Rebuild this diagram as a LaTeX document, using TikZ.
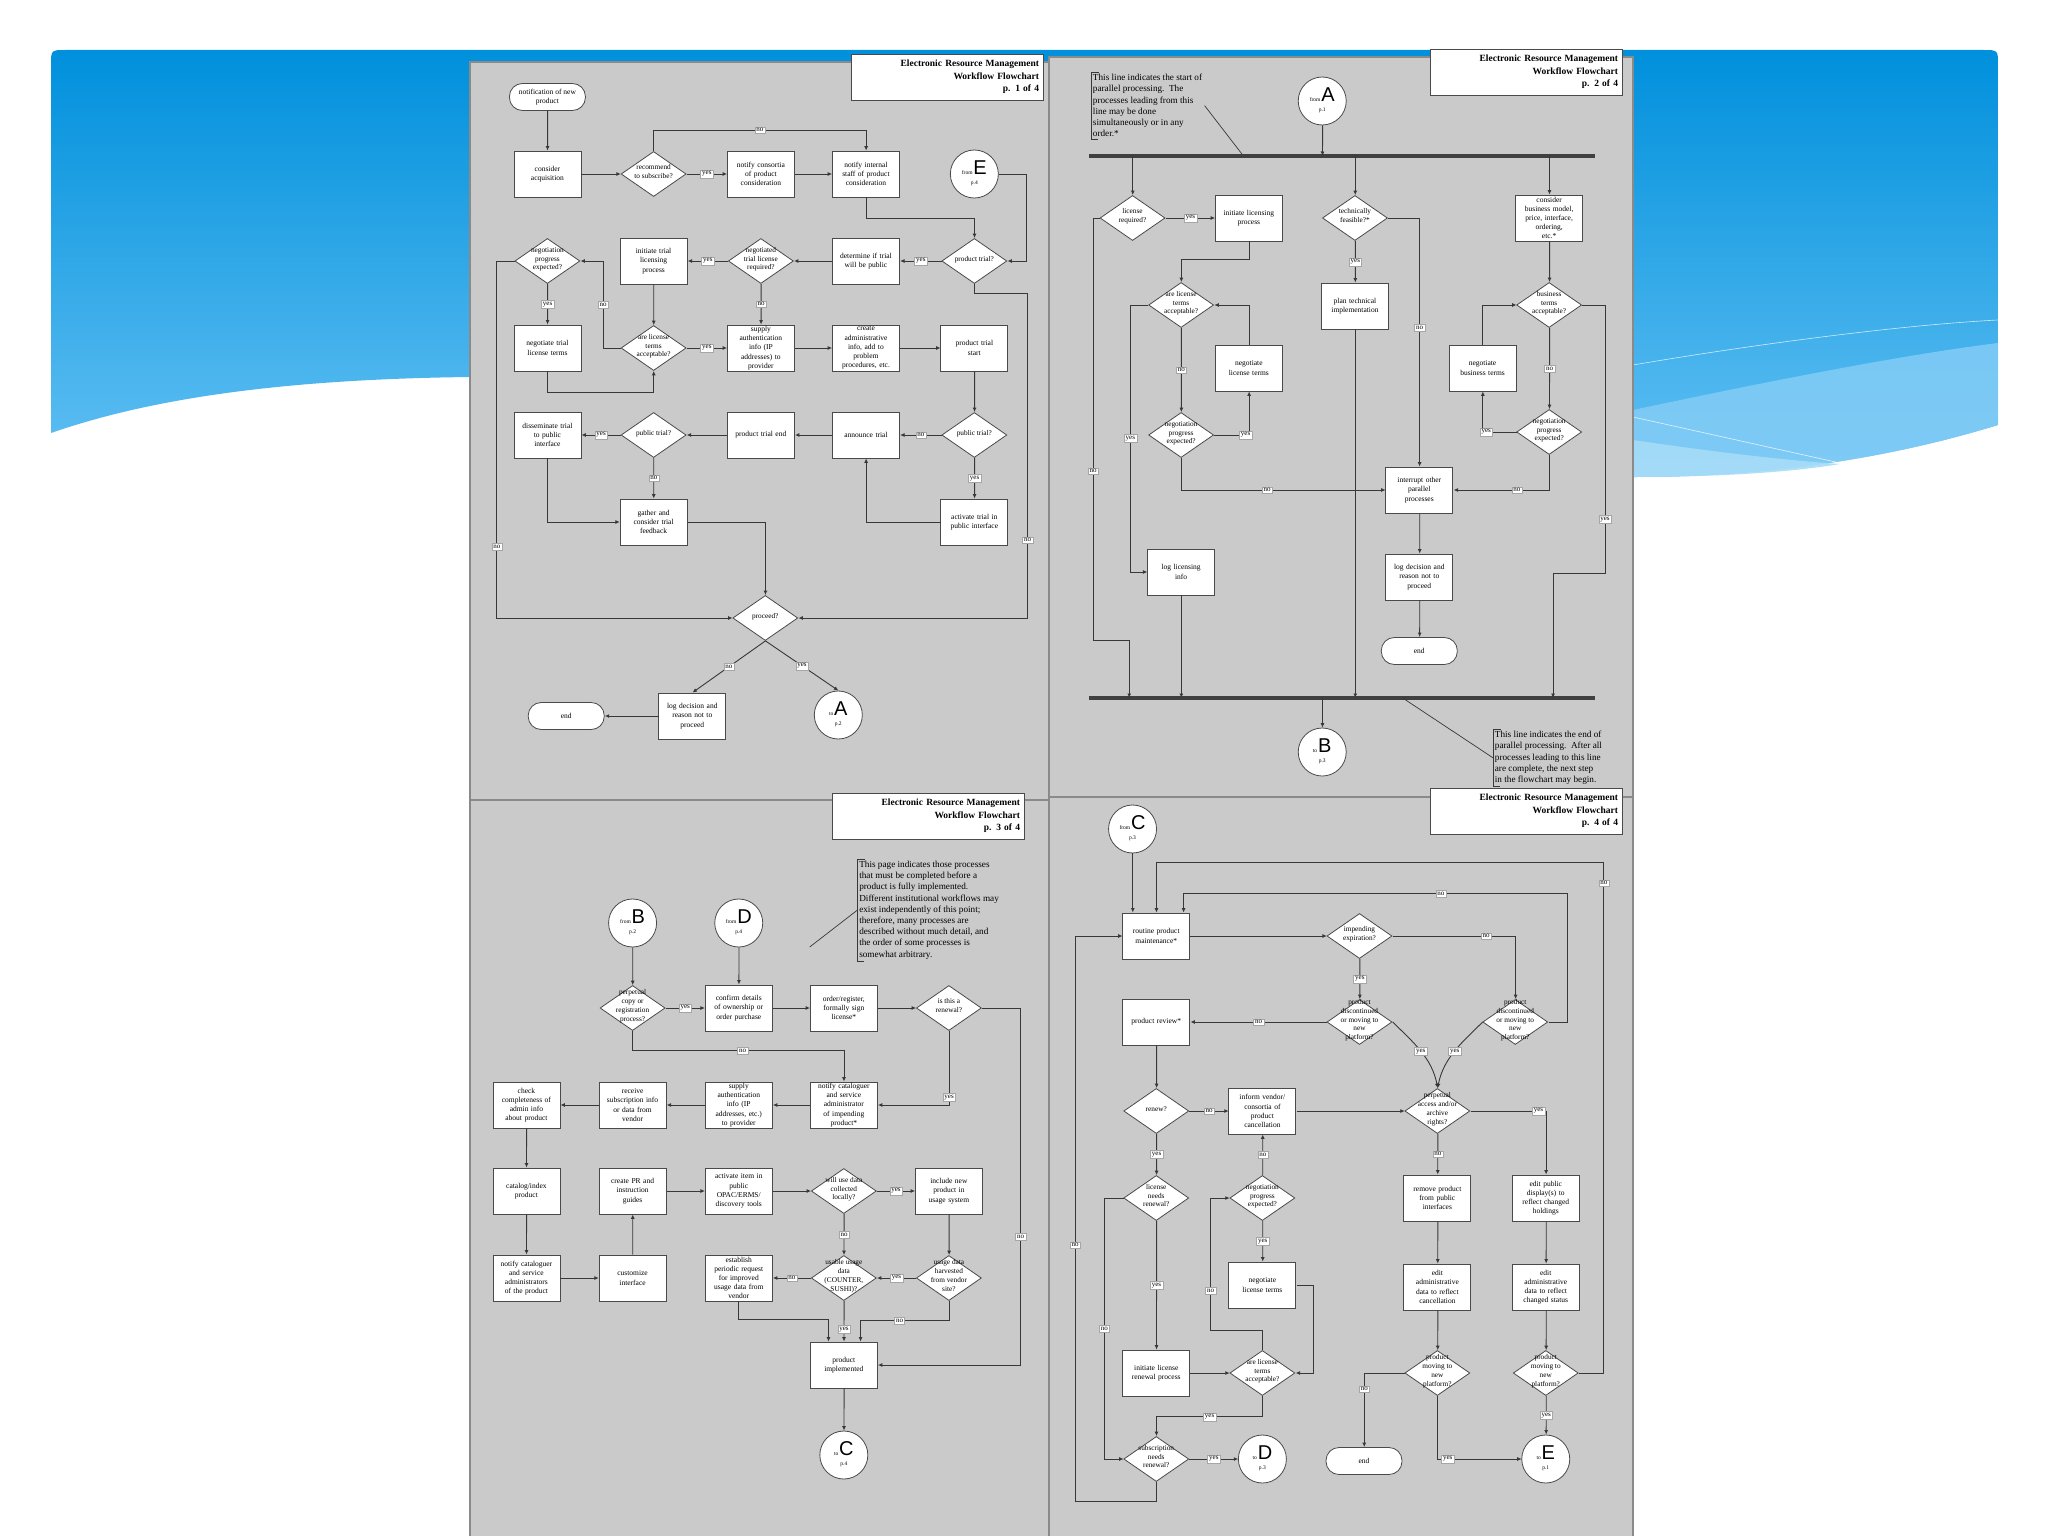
\documentclass[tikz,border=0pt]{standalone}
\usepackage{fontspec}
\setmainfont{Liberation Serif}
\newfontfamily\sansf{Liberation Sans}
\usetikzlibrary{shapes.geometric,arrows.meta}
\definecolor{blueTop}{HTML}{0090DC}
\definecolor{blueBot}{HTML}{62C0F3}
\definecolor{bandA}{HTML}{86CDF6}
\definecolor{bandB}{HTML}{A6DCF8}
\definecolor{panelgray}{HTML}{CACACA}
\definecolor{paneledge}{HTML}{8A8A8A}
\definecolor{lncol}{HTML}{383838}
\definecolor{boxln}{HTML}{4A4A4A}
\newcommand\cnx[3]{\begin{tabular}{@{}c@{}}{\fontsize{5.5}{6}\selectfont #1\,}{\sansf\fontsize{20}{20}\selectfont #2}\\[3pt]{\fontsize{5.5}{6}\selectfont #3}\end{tabular}}
\newcommand\dtx[1]{\makebox[0pt]{\smash{\begin{tabular}{@{}c@{}}#1\end{tabular}}}}
\tikzset{
 pbox/.style={draw=boxln, fill=white, line width=0.8pt, minimum width=67pt, minimum height=46pt, text width=65pt, align=center, inner sep=1pt, font=\fontsize{7.5}{9.2}\selectfont},
 pdec/.style={diamond, draw=boxln, fill=white, line width=0.8pt, minimum width=65pt, minimum height=45pt, inner sep=0pt, font=\fontsize{7.3}{8.8}\selectfont},
 pterm/.style={rectangle, rounded corners=13pt, draw=boxln, fill=white, line width=0.8pt, minimum width=76pt, minimum height=27pt, align=center, font=\fontsize{7.5}{9.2}\selectfont},
 pconn/.style={circle, draw=boxln, fill=white, line width=0.8pt, minimum size=48pt, inner sep=0pt, font=\fontsize{6}{7}\selectfont},
 lbl/.style={fill=white, draw=gray!70, line width=0.3pt, inner sep=1.6pt, font=\fontsize{7}{7.5}\selectfont},
 arr/.style={draw=lncol, line width=0.9pt, -{Latex[length=4.5pt,width=4pt]}},
 ttl/.style={draw=boxln, fill=white, line width=0.9pt, text width=184pt, minimum height=46pt, inner sep=4pt, align=right, font=\bfseries\fontsize{9.5}{12.5}\selectfont},
 notetxt/.style={align=left, inner sep=2pt, anchor=north west, font=\fontsize{9.2}{11.2}\selectfont},
 calline/.style={draw=lncol, line width=0.7pt},
 pbar/.style={draw=black!75, line width=4pt},
 panelsty/.style={fill=panelgray, draw=paneledge, line width=1.2pt},
 leftpanels/.style={xshift=-49.82pt, xscale=1.106},
 rightpanels/.style={xshift=-135.32pt, xscale=1.129}
}
\begin{document}
\begin{tikzpicture}[x=1pt,y=-1pt]
\useasboundingbox (0,0) rectangle (2048,1536);
\fill[white] (0,0) rectangle (2048,1536);
% slide background
\shade[top color=blueTop,bottom color=blueBot] (51,433) -- (51,65) .. controls (51,50) .. (66,50) -- (1983,50) .. controls (1998,50) .. (1998,65) -- (1998,425) .. controls (1900,455) and (1780,477) .. (1633,477) -- (470,377) .. controls (300,379) and (160,395) .. (51,433) -- cycle;
\fill[bandA,opacity=0.8] (1633,410) .. controls (1750,385) and (1900,355) .. (1998,343) -- (1998,425) .. controls (1900,455) and (1780,477) .. (1633,477) -- cycle;
\fill[bandB,opacity=0.9] (1633,440) .. controls (1700,450) and (1780,460) .. (1840,464) .. controls (1780,474) and (1700,477) .. (1633,477) -- cycle;
\draw[white,opacity=0.75,line width=0.6pt] (1633,365) .. controls (1750,345) and (1900,325) .. (1998,320);
\draw[white,opacity=0.75,line width=0.6pt] (1633,417) -- (1840,463);
% panels
\path[panelsty] (470,62) rectangle (1049,800);
\path[panelsty] (1049,57) rectangle (1633,797);
\path[panelsty] (470,800) rectangle (1049,1545);
\path[panelsty] (1049,797) rectangle (1633,1545);
% titles
\node[ttl] (t1) at (947,77) {Electronic Resource Management\\Workflow Flowchart\\p. 1 of 4};
\node[ttl] (t2) at (1526,72) {Electronic Resource Management\\Workflow Flowchart\\p. 2 of 4};
\node[ttl] (t3) at (928,816) {Electronic Resource Management\\Workflow Flowchart\\p. 3 of 4};
\node[ttl] (t4) at (1526,811) {Electronic Resource Management\\Workflow Flowchart\\p. 4 of 4};

%================ PAGE 1 ================
\begin{scope}[leftpanels]
\node[pterm] (n1) at (540,97) {notification of new\\product};
\node[pbox] (n2) at (540,174) {consider\\acquisition};
\node[pdec] (d1) at (636,174) {\dtx{recommend\\to subscribe?}};
\node[pbox] (n3) at (733,174) {notify consortia\\of product\\consideration};
\node[pbox] (n4) at (828,174) {notify internal\\staff of product\\consideration};
\node[pconn] (cE) at (926,174) {\cnx{from}{E}{p.4}};
\node[pdec] (d2) at (926,261) {\dtx{product trial?}};
\node[pbox] (n5) at (828,261) {determine if trial\\will be public};
\node[pdec] (d3) at (733,261) {\dtx{negotiated\\trial license\\required?}};
\node[pbox] (n6) at (636,261) {initiate trial\\licensing\\process};
\node[pdec] (d4) at (540,261) {\dtx{negotiation\\progress\\expected?}};
\node[pdec] (d5) at (636,348) {\dtx{are license\\terms\\acceptable?}};
\node[pbox] (n7) at (540,348) {negotiate trial\\license terms};
\node[pbox] (n8) at (733,348) {supply\\authentication\\info (IP\\addresses) to\\provider};
\node[pbox] (n9) at (828,348) {create\\administrative\\info, add to\\problem\\procedures, etc.};
\node[pbox] (n10) at (926,348) {product trial\\start};
\node[pdec] (d6) at (926,435) {\dtx{public trial?}};
\node[pbox] (n11) at (828,435) {announce trial};
\node[pbox] (n12) at (733,435) {product trial end};
\node[pdec] (d7) at (636,435) {\dtx{public trial?}};
\node[pbox] (n13) at (540,435) {disseminate trial\\to public\\interface};
\node[pbox] (n14) at (636,522) {gather and\\consider trial\\feedback};
\node[pbox] (n15) at (926,522) {activate trial in\\public interface};
\node[pdec] (d8) at (737,618) {\dtx{proceed?}};
\node[pbox] (n16) at (671,716) {log decision and\\reason not to\\proceed};
\node[pterm] (n17) at (557,716) {end};
\node[pconn] (cA) at (803,715) {\cnx{to}{A}{p.2}};

\draw[arr] (n1) -- (n2);
\draw[arr] (n2) -- (d1);
\draw[arr] (d1) -- node[lbl]{yes} (n3);
\draw[arr] (d1.north) -- ++(0,-21) -| node[lbl,pos=0.25]{no} (n4.north);
\draw[arr] (n3) -- (n4);
\draw[arr] (n4.south) -- ++(0,21) -| (d2.north);
\draw[arr] (cE.east) -- ++(25,0) |- (d2.east);
\draw[arr] (d2) -- node[lbl]{yes} (n5);
\draw[arr] (n5) -- (d3);
\draw[arr] (d3) -- node[lbl]{yes} (n6);
\draw[arr] (d3) -- node[lbl]{no} (n8);
\draw[arr] (n6) -- (d5);
\draw[arr] (d5) -- node[lbl]{yes} (n8);
\draw[arr] (d5.west) -- ++(-16,0) |- node[lbl,pos=0.25]{no} (d4.east);
\draw[arr] (d4) -- node[lbl]{yes} (n7);
\draw[arr] (n7.south) -- ++(0,21) -| (d5.south);
\draw[arr] (n8) -- (n9);
\draw[arr] (n9) -- (n10);
\draw[arr] (n10) -- (d6);
\draw[arr] (d6) -- node[lbl]{no} (n11);
\draw[arr] (n11) -- (n12);
\draw[arr] (n12) -- (d7);
\draw[arr] (d7) -- node[lbl]{yes} (n13);
\draw[arr] (d7) -- node[lbl]{no} (n14);
\draw[arr] (n13.south) |- (n14.west);
\draw[arr] (d6) -- node[lbl]{yes} (n15);
\draw[arr] (n15.west) -| (n11.south);
\draw[arr] (n14.east) -| (d8.north);
\draw[arr] (d4.west) -- ++(-16,0) |- node[lbl,pos=0.4]{no} (d8.west);
\draw[arr] (d2.south) -- ++(0,10) -- ++(48,0) |- node[lbl,pos=0.38]{no} (d8.east);
\draw[arr] (d8.south) -- node[lbl]{no} (n16.north);
\draw[arr] (d8.south) -- node[lbl]{yes} (cA.north);
\draw[arr] (n16) -- (n17);
\end{scope}

%================ PAGE 2 ================
\begin{scope}[rightpanels]
\node[notetxt] (note1) at (1086,72) {This line indicates the start of\\parallel processing.\ \ The\\processes leading from this\\line may be done\\simultaneously or in any\\order.*};
\draw[calline] ([xshift=7pt]note1.north west) -- (note1.north west) -- (note1.south west) -- ++(6,0);
\coordinate (c1) at (1221,156);
\draw[calline] (note1.east) -- (c1);
\node[pconn] (cA2) at (1291,101) {\cnx{from}{A}{p.1}};
\coordinate (b1L) at (1084,156);
\coordinate (b1R) at (1532,156);
\coordinate (b2L) at (1084,698);
\coordinate (b2R) at (1532,698);
\draw[pbar] (b1L) -- (b1R);
\draw[pbar] (b2L) -- (b2R);
\node[pdec] (d9) at (1123,218) {\dtx{license\\required?}};
\node[pbox] (n18) at (1226,218) {initiate licensing\\process};
\node[pdec] (d10) at (1166,305) {\dtx{are license\\terms\\acceptable?}};
\node[pbox] (n19) at (1226,368) {negotiate\\license terms};
\node[pdec] (d11) at (1166,435) {\dtx{negotiation\\progress\\expected?}};
\node[pbox] (n20) at (1166,572) {log licensing\\info};
\node[pdec] (d12) at (1320,218) {\dtx{technically\\feasible?*}};
\node[pbox] (n21) at (1320,306) {plan technical\\implementation};
\node[pbox] (n22) at (1492,218) {consider\\business model,\\price, interface,\\ordering,\\etc.*};
\node[pdec] (d13) at (1492,305) {\dtx{business\\terms\\acceptable?}};
\node[pbox] (n23) at (1433,368) {negotiate\\business terms};
\node[pdec] (d14) at (1492,432) {\dtx{negotiation\\progress\\expected?}};
\node[pbox] (n24) at (1377,490) {interrupt other\\parallel\\processes};
\node[pbox] (n25) at (1377,577) {log decision and\\reason not to\\proceed};
\node[pterm] (n26) at (1377,651) {end};
\node[pconn] (cB) at (1291,752) {\cnx{to}{B}{p.3}};
\node[notetxt] (note2) at (1442,729) {This line indicates the end of\\parallel processing.\ \ After all\\processes leading to this line\\are complete, the next step\\in the flowchart may begin.};
\draw[calline] ([xshift=7pt]note2.north west) -- (note2.north west) -- (note2.south west) -- ++(6,0);
\coordinate (c2) at (1362,698);
\draw[calline] (note2.west) -- (c2);

\draw[arr] (cA2) -- (cA2 |- b1L);
\draw[arr] (d9.north |- b1L) -- (d9.north);
\draw[arr] (d12.north |- b1L) -- (d12.north);
\draw[arr] (n22.north |- b1L) -- (n22.north);
\draw[arr] (d9) -- node[lbl]{yes} (n18);
\draw[arr] (n18.south) -- ++(0,18) -| (d10.north);
\draw[arr] (d10.west) -- ++(-16,0) |- node[lbl,pos=0.25]{yes} (n20.west);
\draw[arr] (d10) -- node[lbl]{no} (d11);
\draw[arr] (d11.east) -| node[lbl,pos=0.45]{yes} (n19.south);
\draw[arr] (n19.north) |- (d10.east);
\draw[arr] (d11.south) |- node[lbl,pos=0.71]{no} (n24.west);
\draw[arr] (d9.west) -- ++(-6,0) |- node[lbl,pos=0.3]{no} ++(32,422) -- ++(0,58);
\draw[arr] (n20.south) -- (n20.south |- b2L);
\draw[arr] (d12) -- node[lbl]{yes} (n21);
\draw[arr] (n21.south) -- (n21.south |- b2L);
\draw[arr] (d12.east) -| node[lbl,pos=0.72]{no} (n24.north);
\draw[arr] (n24) -- (n25);
\draw[arr] (n25) -- (n26);
\draw[arr] (n22) -- (d13);
\draw[arr] (n23.north) |- (d13.west);
\draw[arr] (d13) -- node[lbl]{no} (d14);
\draw[arr] (d14.west) -| node[lbl,pos=0.45]{yes} (n23.south);
\draw[arr] (d14.south) |- node[lbl,pos=0.67]{no} (n24.east);
\draw[arr] (d13.east) -- ++(20,0) -- node[lbl,pos=0.8]{yes} ++(0,268) -- ++(-46,0) -- ++(0,125);
\draw[arr] (cB.north |- b2L) -- (cB.north);
\end{scope}

%================ PAGE 3 ================
\begin{scope}[leftpanels]
\node[pconn] (cB2) at (617,923) {\cnx{from}{B}{p.2}};
\node[pconn] (cD) at (713,923) {\cnx{from}{D}{p.4}};
\node[notetxt] (note3) at (820,859) {This page indicates those processes\\that must be completed before a\\product is fully implemented.\\Different institutional workflows may\\exist independently of this point;\\therefore, many processes are\\described without much detail, and\\the order of some processes is\\somewhat arbitrary.};
\draw[calline] ([xshift=7pt]note3.north west) -- (note3.north west) -- (note3.south west) -- ++(6,0);
\coordinate (c3) at (777,947);
\draw[calline] (note3.west) -- (c3);
\node[pdec] (d15) at (617,1008) {\dtx{perpetual\\copy or\\registration\\process?}};
\node[pbox] (n27) at (713,1008) {confirm details\\of ownership or\\order purchase};
\node[pbox] (n28) at (808,1008) {order/register,\\formally sign\\license*};
\node[pdec] (d16) at (903,1008) {\dtx{is this a\\renewal?}};
\node[pbox] (n29) at (808,1105) {notify cataloguer\\and service\\administrator\\of impending\\product*};
\node[pbox] (n30) at (713,1105) {supply\\authentication\\info (IP\\addresses, etc.)\\to provider};
\node[pbox] (n31) at (617,1105) {receive\\subscription info\\or data from\\vendor};
\node[pbox] (n32) at (521,1105) {check\\completeness of\\admin info\\about product};
\node[pbox] (n33) at (521,1191) {catalog/index\\product};
\node[pbox] (n34) at (521,1278) {notify cataloguer\\and service\\administrators\\of the product};
\node[pbox] (n35) at (617,1278) {customize\\interface};
\node[pbox] (n36) at (617,1191) {create PR and\\instruction\\guides};
\node[pbox] (n37) at (713,1191) {activate item in\\public\\OPAC/ERMS/\\discovery tools};
\node[pdec] (d17) at (808,1191) {\dtx{will use data\\collected\\locally?}};
\node[pbox] (n38) at (903,1191) {include new\\product in\\usage system};
\node[pdec] (d18) at (903,1278) {\dtx{usage data\\harvested\\from vendor\\site?}};
\node[pdec] (d19) at (808,1278) {\dtx{usable usage\\data\\(COUNTER,\\SUSHI)?}};
\node[pbox] (n39) at (713,1278) {establish\\periodic request\\for improved\\usage data from\\vendor};
\node[pbox] (n40) at (808,1365) {product\\implemented};
\node[pconn] (cC) at (808,1455) {\cnx{to}{C}{p.4}};

\draw[arr] (cB2) -- (d15);
\draw[arr] (cD) -- (n27);
\draw[arr] (d15) -- node[lbl]{yes} (n27);
\draw[arr] (n27) -- (n28);
\draw[arr] (n28) -- (d16);
\draw[arr] (d15.south) -- ++(0,20) -| node[lbl,pos=0.26]{no} (n29.north);
\draw[arr] (d16.south) |- node[lbl,pos=0.45]{yes} (n29.east);
\draw[arr] (d16.east) -- ++(35,0) |- node[lbl,pos=0.32]{no} (n40.east);
\draw[arr] (n29) -- (n30);
\draw[arr] (n30) -- (n31);
\draw[arr] (n31) -- (n32);
\draw[arr] (n32) -- (n33);
\draw[arr] (n33) -- (n34);
\draw[arr] (n34) -- (n35);
\draw[arr] (n35) -- (n36);
\draw[arr] (n36) -- (n37);
\draw[arr] (n37) -- (d17);
\draw[arr] (d17) -- node[lbl]{yes} (n38);
\draw[arr] (d17) -- node[lbl]{no} (d19);
\draw[arr] (n38) -- (d18);
\draw[arr] (d18) -- node[lbl]{yes} (d19);
\draw[arr] (d19) -- node[lbl]{no} (n39);
\draw[arr] (d19) -- node[lbl,pos=0.7]{yes} (n40);
\draw[arr] (n39.south) -- ++(0,18) -| ([xshift=-14pt]n40.north);
\draw[arr] (d18.south) -- ++(0,20) -| node[lbl,pos=0.28]{no} ([xshift=15pt]n40.north);
\draw[arr] (n40) -- (cC);
\end{scope}

%================ PAGE 4 ================
\begin{scope}[rightpanels]
\node[pconn] (cC2) at (1123,829) {\cnx{from}{C}{p.3}};
\node[pbox] (n41) at (1144,936) {routine product\\maintenance*};
\node[pdec] (d20) at (1324,936) {\dtx{impending\\expiration?}};
\node[pdec] (d21) at (1324,1022) {\dtx{product\\discontinued\\or moving to\\new\\platform?}};
\node[pdec] (d22) at (1462,1022) {\dtx{product\\discontinued\\or moving to\\new\\platform?}};
\node[pbox] (n42) at (1144,1022) {product review*};
\node[pdec] (d23) at (1144,1111) {\dtx{renew?}};
\node[pbox] (n43) at (1238,1111) {inform vendor/\\consortia of\\product\\cancellation};
\node[pdec] (d24) at (1393,1111) {\dtx{perpetual\\access and/or\\archive\\rights?}};
\node[pbox] (n44) at (1393,1198) {remove product\\from public\\interfaces};
\node[pbox] (n45) at (1393,1287) {edit\\administrative\\data to reflect\\cancellation};
\node[pdec] (d25) at (1393,1373) {\dtx{product\\moving to\\new\\platform?}};
\node[pbox] (n46) at (1489,1198) {edit public\\display(s) to\\reflect changed\\holdings};
\node[pbox] (n47) at (1489,1287) {edit\\administrative\\data to reflect\\changed status};
\node[pdec] (d26) at (1489,1373) {\dtx{product\\moving to\\new\\platform?}};
\node[pconn] (cE2) at (1489,1459) {\cnx{to}{E}{p.1}};
\node[pterm] (n48) at (1328,1461) {end};
\node[pdec] (d27) at (1144,1198) {\dtx{license\\needs\\renewal?}};
\node[pdec] (d28) at (1238,1198) {\dtx{negotiation\\progress\\expected?}};
\node[pbox] (n49) at (1238,1285) {negotiate\\license terms};
\node[pbox] (n50) at (1144,1373) {initiate license\\renewal process};
\node[pdec] (d29) at (1238,1373) {\dtx{are license\\terms\\acceptable?}};
\node[pdec] (d30) at (1144,1459) {\dtx{subscription\\needs\\renewal?}};
\node[pconn] (cD2) at (1238,1459) {\cnx{to}{D}{p.3}};

\draw[arr] (cC2.south) -- (cC2.south |- n41.north);
\draw[arr] (d22.east) -- ++(17,0) |- node[lbl,pos=0.665]{no} ([xshift=24pt,yshift=19pt]n41.north) -- ([xshift=24pt]n41.north);
\draw[arr] (d26.east) -- ++(22,0) |- node[lbl,pos=0.48]{no} ([yshift=50pt]n41.north) -- (n41.north);
\draw[arr] (d30.south) -- ++(0,20) -- ++(-72,0) |- node[lbl,pos=0.227]{no} (n41.west);
\draw[arr] (n41) -- (d20);
\draw[arr] (d20.east) -| node[lbl,pos=0.38]{no} (d22.north);
\draw[arr] (d20) -- node[lbl]{yes} (d21);
\draw[arr] (d21) -- node[lbl]{no} (n42);
\draw[arr] (n42) -- (d23);
\draw[arr] (d23) -- node[lbl]{no} (n43);
\draw[arr] (n43) -- (d24);
\draw[arr] (d21.east) .. controls ++(18,20) and ++(-5,-30) .. node[lbl]{yes} (d24.north);
\draw[arr] (d22.west) .. controls ++(-18,20) and ++(5,-30) .. node[lbl]{yes} (d24.north);
\draw[arr] (d24.east) -| node[lbl,pos=0.45]{yes} (n46.north);
\draw[arr] (d24) -- node[lbl]{no} (n44);
\draw[arr] (n44) -- (n45);
\draw[arr] (n45) -- (d25);
\draw[arr] (n46) -- (n47);
\draw[arr] (n47) -- (d26);
\draw[arr] (d26) -- node[lbl]{yes} (cE2);
\draw[arr] (d25.west) -| node[lbl,pos=0.61]{no} (n48.north);
\draw[arr] (d25.south) |- node[lbl,pos=0.56]{yes} (cE2.west);
\draw[arr] (d23) -- node[lbl]{yes} (d27);
\draw[arr] (d27) -- node[lbl]{yes} (n50);
\draw[arr] (d27.west) -- ++(-17,0) |- node[lbl,pos=0.25]{no} (d30.west);
\draw[arr] (n50) -- (d29);
\draw[arr] (d29.north) -- ++(0,-20) -- ++(-46,0) |- node[lbl,pos=0.15]{no} (d28.west);
\draw[arr] (d28) -- node[lbl]{yes} (n49);
\draw[arr] (d28) -- node[lbl]{no} (n43);
\draw[arr] (n49.east) -- ++(15,0) |- (d29.east);
\draw[arr] (d29.south) -- ++(0,21) -| node[lbl,pos=0.25]{yes} (d30.north);
\draw[arr] (d30) -- node[lbl]{yes} (cD2);
\end{scope}
\end{tikzpicture}
\end{document}
